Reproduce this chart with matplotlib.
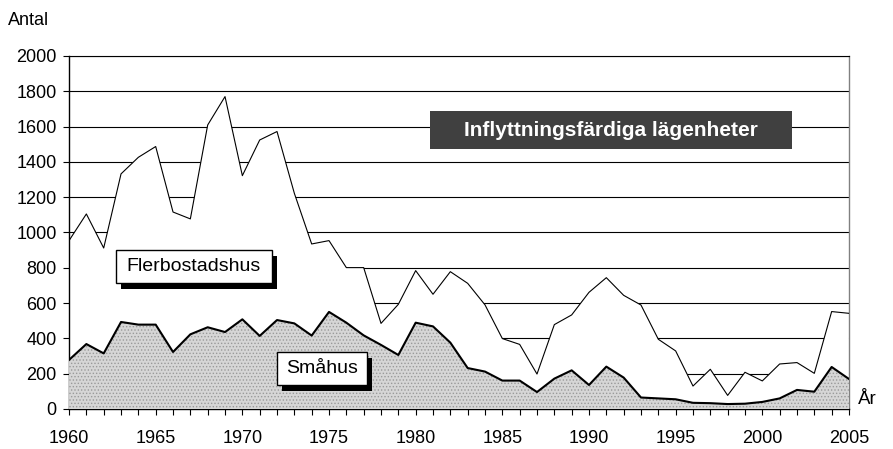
import matplotlib
matplotlib.use('Agg')
import matplotlib.pyplot as plt
import matplotlib.transforms as mtransforms
from matplotlib.patches import Rectangle
from matplotlib.ticker import MultipleLocator
import numpy as np

plt.rcParams['font.family'] = ['Liberation Sans', 'DejaVu Sans']
plt.rcParams['hatch.linewidth'] = 0.6

years = np.arange(1960, 2006)

# totalt antal (småhus + flerbostadshus)
totalt = [954, 1105, 912, 1332, 1426, 1487, 1116, 1077, 1609, 1770,
          1322, 1524, 1572, 1222, 935, 954, 801, 801, 485, 593,
          784, 650, 778, 712, 590, 399, 366, 198, 478, 533,
          661, 744, 644, 589, 395, 329, 130, 225, 77, 208,
          159, 255, 263, 202, 552, 542]

smahus = [278, 368, 315, 493, 478, 478, 323, 423, 463, 436,
          508, 414, 504, 485, 416, 550, 489, 417, 363, 306,
          489, 468, 376, 232, 212, 161, 161, 96, 172, 219,
          136, 240, 178, 65, 60, 55, 35, 33, 28, 30,
          40, 60, 108, 98, 238, 170]

fig = plt.figure(figsize=(8.93, 4.49), dpi=100)
ax = fig.add_axes([0.0773, 0.0891, 0.8734, 0.7862])

ax.set_axisbelow(True)
ax.yaxis.grid(True, color='black', linewidth=0.8)

# vit yta under totalen döljer rutnätet
ax.fill_between(years, 0, totalt, facecolor='white', zorder=2)
ax.plot(years, totalt, color='black', linewidth=0.8, zorder=3)

ax.fill_between(years, 0, smahus, facecolor='#d6d6d6', edgecolor='#9a9a9a',
                hatch='.....', linewidth=0, zorder=3)
ax.plot(years, smahus, color='black', linewidth=1.5, zorder=4)

ax.set_xlim(1960, 2005)
ax.set_ylim(0, 2000)
ax.xaxis.set_major_locator(MultipleLocator(5))
ax.xaxis.set_minor_locator(MultipleLocator(1))
ax.yaxis.set_major_locator(MultipleLocator(200))

ax.tick_params(axis='x', which='both', direction='out', length=4, width=0.8,
               labelsize=13, pad=11)
ax.tick_params(axis='y', direction='out', length=4, width=0.8,
               labelsize=13, pad=5)

for s in ['left', 'bottom']:
    ax.spines[s].set_linewidth(1.0)
ax.spines['top'].set_linewidth(0.8)
ax.spines['right'].set_color('#808080')
ax.spines['right'].set_linewidth(1.0)

fig.text(0.009, 0.955, 'Antal', fontsize=13, va='center', ha='left')
fig.text(0.961, 0.11, 'År', fontsize=13.5, va='center', ha='left')

# rubrikruta
ax.add_patch(Rectangle((1980.83, 1473), 20.88, 215, facecolor='#404040',
                       edgecolor='none', zorder=6))
ax.text(1991.27, 1580, 'Inflyttningsfärdiga lägenheter', color='white',
        fontsize=15, fontweight='bold', ha='center', va='center', zorder=7)

# etikettrutor med skugga
shadow = mtransforms.offset_copy(ax.transData, fig=fig, x=5, y=-6, units='dots')
boxes = [('Flerbostadshus', 1962.71, 714, 9.0, 187),
         ('Småhus', 1971.98, 136, 5.19, 189)]
for label, x0, y0, w, h in boxes:
    ax.add_patch(Rectangle((x0, y0), w, h, facecolor='black', edgecolor='none',
                           transform=shadow, zorder=6))
    ax.add_patch(Rectangle((x0, y0), w, h, facecolor='white', edgecolor='black',
                           linewidth=1.0, zorder=7))
    ax.text(x0 + w / 2, y0 + h / 2, label, fontsize=14, ha='center',
            va='center', zorder=8)

fig.savefig('out.png', dpi=100)
